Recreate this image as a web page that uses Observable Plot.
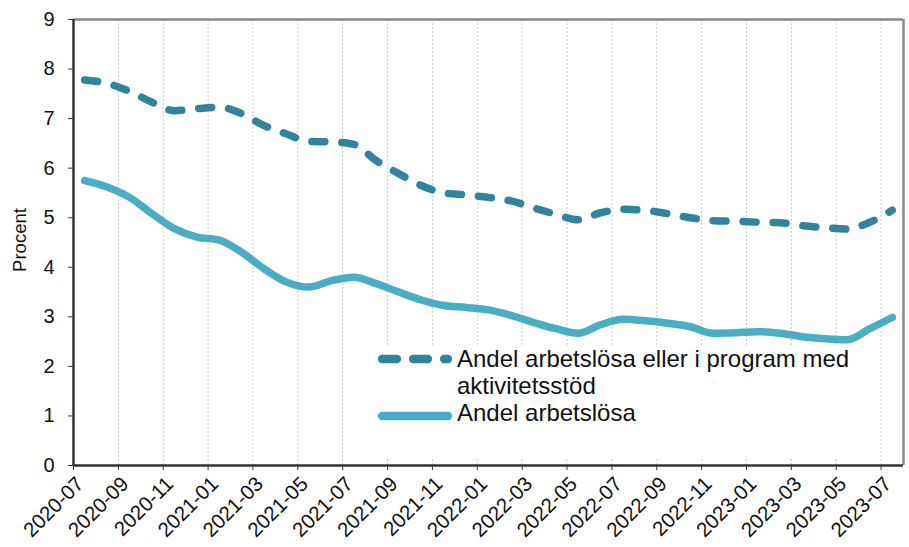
<!DOCTYPE html>
<html><head><meta charset="utf-8">
<script src="https://cdn.jsdelivr.net/npm/d3@7"></script>
<script src="https://cdn.jsdelivr.net/npm/@observablehq/plot@0.6"></script>
<style>
body{margin:0;background:#fff;font-family:"Liberation Sans",Arial,sans-serif;}
#wrap{position:relative;width:909px;height:547px;}
#ylab{position:absolute;left:20px;top:240px;transform:translate(-50%,-50%) rotate(-90deg);font-size:18.5px;color:#111;white-space:nowrap;}
#legend{position:absolute;left:360px;top:345px;width:508px;height:112px;background:#fff;font-size:24px;color:#111;}
#legend .t{position:absolute;left:97px;line-height:27px;height:27px;white-space:nowrap;}
#legend svg{position:absolute;left:14px;}
</style></head>
<body><div id="wrap"><div id="ylab">Procent</div></div>
<script>
const months = ["2020-07","2020-08","2020-09","2020-10","2020-11","2020-12","2021-01","2021-02","2021-03","2021-04","2021-05","2021-06","2021-07","2021-08","2021-09","2021-10","2021-11","2021-12","2022-01","2022-02","2022-03","2022-04","2022-05","2022-06","2022-07","2022-08","2022-09","2022-10","2022-11","2022-12","2023-01","2023-02","2023-03","2023-04","2023-05","2023-06","2023-07"];
const arbetslosa = [5.75,5.62,5.41,5.08,4.78,4.61,4.55,4.3,3.97,3.7,3.6,3.73,3.8,3.67,3.5,3.34,3.23,3.19,3.14,3.03,2.89,2.76,2.67,2.84,2.95,2.92,2.87,2.8,2.67,2.68,2.7,2.67,2.6,2.56,2.54,2.76,2.99];
const arbetslosaProgram = [7.78,7.71,7.55,7.33,7.16,7.2,7.23,7.1,6.86,6.69,6.54,6.53,6.48,6.15,5.89,5.65,5.5,5.46,5.41,5.34,5.2,5.07,4.96,5.1,5.17,5.15,5.08,5.0,4.94,4.93,4.91,4.9,4.84,4.8,4.77,4.91,5.15];
const seriesNames = ["Andel arbetslösa eller i program med aktivitetsstöd","Andel arbetslösa"];
const yTicks = [0,1,2,3,4,5,6,7,8,9];

const dataSolid = months.map((m,i)=>({i, x:i+0.5, v:arbetslosa[i]}));
const dataDash = months.map((m,i)=>({i, x:i+0.5, v:arbetslosaProgram[i]}));
const tickIdx = months.map((m,i)=>i).filter(i=>i%2===0);
const labelShift = 0.3;

const colDash = "#31849b", colSolid = "#4bacc6";

const chart = Plot.plot({
  width: 909, height: 547,
  marginLeft: 73, marginRight: 6, marginTop: 19, marginBottom: 82,
  style: {fontFamily: '"Liberation Sans", Arial, sans-serif', fontSize: "20.5px", color: "#111", background: "transparent"},
  x: {domain: [0, months.length], ticks: tickIdx},
  y: {domain: [0, 9], ticks: yTicks},
  marks: [
    Plot.ruleX(tickIdx, {y1: 0, y2: 9, stroke: "#c8c8c8", strokeWidth: 1, strokeDasharray: "2,2"}),
    Plot.axisX({ticks: tickIdx, tickSize: 5, tickFormat: () => "", label: null, stroke: "#333"}),
    Plot.axisX({ticks: tickIdx.map(i => i + labelShift), tickFormat: d => months[Math.round(d - labelShift)], tickRotate: -45, tickSize: 0, tickPadding: 15, label: null}),
    Plot.axisY({ticks: yTicks, tickSize: 5, label: null, tickPadding: 14, stroke: "#333", fontSize: 20}),
    Plot.line(dataDash, {x: "x", y: "v", stroke: colDash, strokeWidth: 7.5, strokeDasharray: "13,17", strokeLinecap: "round", strokeLinejoin: "round", curve: "monotone-x"}),
    Plot.line(dataSolid, {x: "x", y: "v", stroke: colSolid, strokeWidth: 7.5, strokeLinecap: "round", strokeLinejoin: "round", curve: "monotone-x"}),
    Plot.ruleY([9], {stroke: "#888", strokeWidth: 2.5}),
    Plot.ruleX([months.length], {stroke: "#888", strokeWidth: 2.5}),
    Plot.ruleY([0], {stroke: "#333", strokeWidth: 2.5}),
    Plot.ruleX([0], {stroke: "#333", strokeWidth: 2.5})
  ]
});
const wrap = document.getElementById("wrap");
wrap.insertBefore(chart, wrap.firstChild);

const leg = document.createElement("div");
leg.id = "legend";
leg.innerHTML = `
<svg width="80" height="14" style="top:7px"><line x1="8" y1="7" x2="74" y2="7" stroke="${colDash}" stroke-width="8.3" stroke-linecap="round" stroke-dasharray="15,16"/></svg>
<div class="t" style="top:0px">${seriesNames[0].replace(" aktivitetsstöd","")}</div>
<div class="t" style="top:27px">aktivitetsstöd</div>
<svg width="80" height="14" style="top:64px"><line x1="8" y1="7" x2="74" y2="7" stroke="${colSolid}" stroke-width="8.3" stroke-linecap="round"/></svg>
<div class="t" style="top:54px">${seriesNames[1]}</div>`;
wrap.appendChild(leg);
</script></body></html>
